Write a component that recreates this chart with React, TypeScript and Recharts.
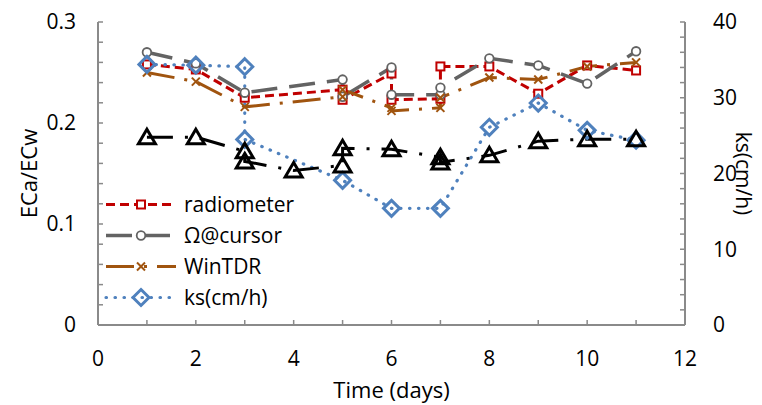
import { LineChart, Line, XAxis, YAxis, Legend } from 'recharts'

const FONT = '"Open Sans", sans-serif'
const AXIS = '#8a8a8a'

// days and readings
const radDays = [1, 2, 3, 5, 5, 6, 6, 7, 7, 8, 9, 10, 11]
const radiometer = [0.258, 0.253, 0.225, 0.233, 0.223, 0.249, 0.223, 0.224, 0.256, 0.256, 0.229, 0.257, 0.252]

const cursorDays = [1, 2, 3, 5, 5, 6, 6, 7, 7, 8, 9, 10, 11]
const cursor = [0.27, 0.259, 0.23, 0.243, 0.226, 0.255, 0.228, 0.228, 0.235, 0.264, 0.257, 0.239, 0.271]

const tdrDays = [1, 2, 3, 5, 5, 6, 6, 7, 7, 8, 9, 10, 11]
const winTdr = [0.25, 0.241, 0.216, 0.226, 0.233, 0.215, 0.212, 0.215, 0.225, 0.245, 0.243, 0.256, 0.26]

const ksDays = [1, 2, 3, 3, 5, 6, 7, 8, 9, 10, 11]
const ks = [34.4, 34.3, 34.1, 24.5, 19.1, 15.4, 15.4, 26.1, 29.3, 25.7, 24.4]

const refDays = [1, 2, 3, 3, 4, 5, 5, 6, 7, 7, 8, 9, 10, 11]
const refRatio = [0.186, 0.186, 0.172, 0.162, 0.153, 0.158, 0.175, 0.174, 0.166, 0.161, 0.168, 0.182, 0.184, 0.184]

const xTicks = [0, 1, 2, 3, 4, 5, 6, 7, 8, 9, 10, 11, 12]
const xLabelTicks = [0, 2, 4, 6, 8, 10, 12]
const leftTicks = [0, 0.02, 0.04, 0.06, 0.08, 0.1, 0.12, 0.14, 0.16, 0.18, 0.2, 0.22, 0.24, 0.26, 0.28, 0.3]
const leftLabelTicks = [0, 0.1, 0.2, 0.3]
const rightTicks = [0, 2, 4, 6, 8, 10, 12, 14, 16, 18, 20, 22, 24, 26, 28, 30, 32, 34, 36, 38, 40]
const rightLabelTicks = [0, 10, 20, 30, 40]

const toRows = (days: number[], vals: number[]) => days.map((x, i) => ({ x, y: vals[i] }))
const only = (list: number[]) => (v: number) => (list.some(t => Math.abs(t - v) < 1e-9) ? String(v) : '')

type Mark = 'square' | 'circle' | 'cross' | 'diamond' | 'triangle'

function Marker({ kind, cx, cy, color }: { kind: Mark; cx: number; cy: number; color: string }) {
  switch (kind) {
    case 'square':
      return <rect x={cx - 4} y={cy - 4} width={8} height={8} fill="#fff" stroke={color} strokeWidth={2} />
    case 'circle':
      return <circle cx={cx} cy={cy} r={4.3} fill="#fff" stroke={color} strokeWidth={1.8} />
    case 'cross':
      return (
        <g stroke={color} strokeWidth={2}>
          <line x1={cx - 4} y1={cy - 4} x2={cx + 4} y2={cy + 4} />
          <line x1={cx - 4} y1={cy + 4} x2={cx + 4} y2={cy - 4} />
        </g>
      )
    case 'diamond':
      return <path d={`M${cx},${cy - 8}L${cx + 8},${cy}L${cx},${cy + 8}L${cx - 8},${cy}Z`} fill="none" stroke={color} strokeWidth={3} />
    case 'triangle':
      return <path d={`M${cx},${cy - 8}L${cx + 8.5},${cy + 6.5}L${cx - 8.5},${cy + 6.5}Z`} fill="none" stroke={color} strokeWidth={3} />
  }
}

const dotFor = (kind: Mark, color: string) => (p: any) => {
  if (p.cx == null || p.cy == null) return <g key={p.index} />
  return <Marker key={p.index} kind={kind} cx={p.cx} cy={p.cy} color={color} />
}

const SERIES = [
  { name: 'radiometer', rows: toRows(radDays, radiometer), axis: 'left', color: '#C00000', dash: '9 5', width: 3, mark: 'square' as Mark, legend: true },
  { name: 'Ω@cursor', rows: toRows(cursorDays, cursor), axis: 'left', color: '#636363', dash: '26 12', width: 3.5, mark: 'circle' as Mark, legend: true },
  { name: 'WinTDR', rows: toRows(tdrDays, winTdr), axis: 'left', color: '#A0540F', dash: '28 10 3 10', width: 3, mark: 'cross' as Mark, legend: true },
  { name: 'ks(cm/h)', rows: toRows(ksDays, ks), axis: 'right', color: '#4F81BD', dash: '0.5 8.5', width: 3.2, mark: 'diamond' as Mark, legend: true },
  { name: 'ECa/ECw ref', rows: toRows(refDays, refRatio), axis: 'left', color: '#000', dash: '26 12 3 12', width: 3, mark: 'triangle' as Mark, legend: false },
]

function LegendBox() {
  return (
    <div style={{ fontFamily: FONT, fontSize: 21, color: '#000' }}>
      {SERIES.filter(s => s.legend).map(s => (
        <div key={s.name} style={{ display: 'flex', alignItems: 'center', height: 31 }}>
          <svg width={74} height={31}>
            <line x1={2} y1={15.5} x2={72} y2={15.5} stroke={s.color} strokeWidth={s.width}
              strokeDasharray={s.dash} strokeLinecap={s.mark === 'diamond' ? 'round' : 'butt'} />
            <Marker kind={s.mark} cx={37} cy={15.5} color={s.color} />
          </svg>
          <span style={{ marginLeft: 6, lineHeight: '31px' }}>{s.name}</span>
        </div>
      ))}
    </div>
  )
}

const tickStyle = { fontSize: 21, fill: '#000', fontFamily: FONT }
const titleStyle = { fontFamily: FONT, fontSize: 22, fill: '#000' }

export default function App() {
  return (
    <LineChart width={754} height={397} margin={{ top: 14, right: 0, left: 0, bottom: 0 }}>
      <XAxis
        dataKey="x" type="number" domain={[0, 12]} ticks={xTicks} interval={0}
        tickFormatter={only(xLabelTicks)} tick={tickStyle}
        tickSize={-5} tickMargin={31} height={80}
        axisLine={{ stroke: AXIS, strokeWidth: 2 }} tickLine={{ stroke: AXIS, strokeWidth: 1.5 }}
        label={{
          content: ({ viewBox }: any) => (
            <text x={viewBox.x + viewBox.width / 2} y={viewBox.y + 73} textAnchor="middle" style={titleStyle}>Time (days)</text>
          ),
        }}
      />
      <YAxis
        yAxisId="left" type="number" domain={[0, 0.3]} ticks={leftTicks} interval={0}
        tickFormatter={only(leftLabelTicks)} tick={tickStyle}
        tickSize={-5} tickMargin={27} width={90}
        axisLine={{ stroke: AXIS, strokeWidth: 2 }} tickLine={{ stroke: AXIS, strokeWidth: 1.5 }}
        label={{
          content: ({ viewBox }: any) => {
            const cx = viewBox.x + 20
            const cy = viewBox.y + viewBox.height / 2
            return (
              <text x={cx} y={cy} transform={`rotate(-90, ${cx}, ${cy})`} textAnchor="middle" dominantBaseline="central"
                style={titleStyle}>ECa/ECw</text>
            )
          },
        }}
      />
      <YAxis
        yAxisId="right" orientation="right" type="number" domain={[0, 40]} ticks={rightTicks} interval={0}
        tickFormatter={only(rightLabelTicks)} tick={tickStyle}
        tickSize={-5} tickMargin={33} width={77}
        axisLine={{ stroke: AXIS, strokeWidth: 2 }} tickLine={{ stroke: AXIS, strokeWidth: 1.5 }}
        label={{
          content: ({ viewBox }: any) => {
            const cx = viewBox.x + 59
            const cy = viewBox.y + viewBox.height / 2
            return (
              <text x={cx} y={cy} transform={`rotate(90, ${cx}, ${cy})`} textAnchor="middle" dominantBaseline="central"
                style={{ ...titleStyle, fontSize: 21 }}>ks(cm/h)</text>
            )
          },
        }}
      />
      <Legend content={<LegendBox />} layout="vertical" align="center" verticalAlign="middle"
        wrapperStyle={{ left: 96, top: 181, width: 260 }} />
      {SERIES.map(s => (
        <Line
          key={s.name} data={s.rows} dataKey="y" name={s.name} yAxisId={s.axis}
          type="linear" stroke={s.color} strokeWidth={s.width} strokeDasharray={s.dash}
          strokeLinecap={s.mark === 'diamond' ? 'round' : 'butt'}
          dot={dotFor(s.mark, s.color)} activeDot={false}
          legendType={s.legend ? 'line' : 'none'} isAnimationActive={false}
        />
      ))}
    </LineChart>
  )
}
